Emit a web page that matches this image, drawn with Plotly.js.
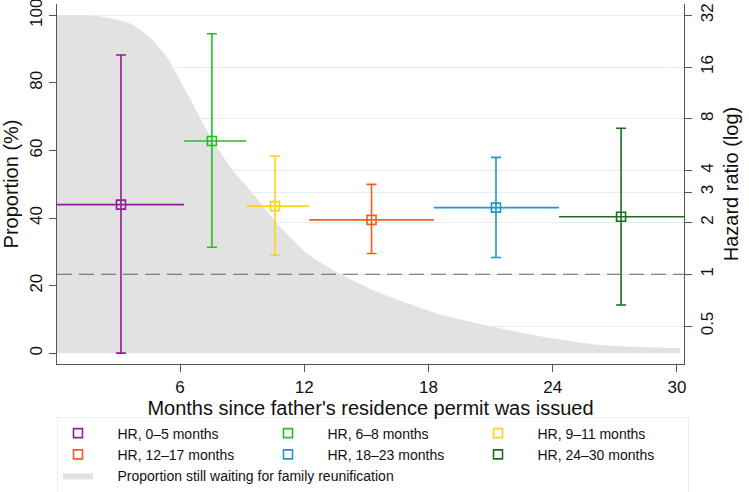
<!DOCTYPE html>
<html>
<head>
<meta charset="utf-8">
<script src="https://cdn.plot.ly/plotly-3.0.1.min.js"></script>
<style>
  body { margin: 0; background: #fff; }
  #chart { width: 749px; height: 492px; }
</style>
</head>
<body>
<div id="chart"></div>
<script>
// hazard ratio per waiting-time band
let bandNames = ["HR, 0–5 months", "HR, 6–8 months", "HR, 9–11 months",
                 "HR, 12–17 months", "HR, 18–23 months", "HR, 24–30 months"];
let bandColors = ["#8e1f96", "#22c11e", "#ffd21e", "#ff5a1e", "#1e96c8", "#1d6e1d"];
let bandMid = [3.15, 7.54, 10.59, 15.25, 21.26, 27.3];
let bandStart = [0.06, 6.2, 9.2, 12.24, 18.26, 24.3];
let bandEnd = [6.2, 9.2, 12.24, 18.26, 24.3, 30.34];
let hr = [2.54, 5.95, 2.49, 2.07, 2.44, 2.16];
let hrLow = [0.348, 1.435, 1.29, 1.32, 1.25, 0.663];
let hrHigh = [18.8, 25.0, 4.86, 3.33, 4.78, 7.05];

// share of families still waiting
let waitName = "Proportion still waiting for family reunification";
let waitMonths = [0, 1.99, 3.59, 4.55, 5.37, 5.66, 6.34, 6.96, 7.59, 8.56, 9.52,
                  10.68, 12.13, 13.39, 15.66, 18.41, 21.21, 24.01, 26.42, 30.14];
let waitPct = [100, 99.8, 97.6, 93.5, 87.6, 84.6, 76.9, 69.8, 62.7, 54.1, 47.3,
               38.5, 29.6, 24.6, 17.8, 11.8, 7.7, 4.4, 2.4, 1.5];

let monthTicks = [6, 12, 18, 24, 30];
let pctTicks = [0, 20, 40, 60, 80, 100];
let hrTicks = [0.5, 1, 2, 3, 4, 8, 16, 32];
let refHR = 1;

let axisCol = '#555555';
// push legend text a bit away from the symbol, like the original
let pad = '\u00a0\u00a0\u00a0\u00a0\u00a0';

let waiting = {
    x: waitMonths,
    y: waitPct,
    name: pad + waitName,
    type: 'scatter',
    mode: 'lines',
    line: { width: 0, shape: 'spline', smoothing: 0.6 },
    fill: 'tozeroy',
    fillcolor: '#e2e2e2',
    legendrank: 2000,
    hoverinfo: 'skip'
};

let data = [waiting];

for (let i = 0; i < bandNames.length; i++) {
    data.push({
        x: [bandMid[i]],
        y: [hr[i]],
        yaxis: 'y2',
        name: pad + bandNames[i],
        type: 'scatter',
        mode: 'markers',
        marker: {
            symbol: 'square-open',
            size: 9,
            color: bandColors[i],
            line: { width: 1.6, color: bandColors[i] }
        },
        error_x: {
            type: 'data',
            symmetric: false,
            array: [bandEnd[i] - bandMid[i]],
            arrayminus: [bandMid[i] - bandStart[i]],
            width: 0,
            thickness: 1.6,
            color: bandColors[i]
        },
        error_y: {
            type: 'data',
            symmetric: false,
            array: [hrHigh[i] - hr[i]],
            arrayminus: [hr[i] - hrLow[i]],
            width: 5,
            thickness: 1.6,
            color: bandColors[i]
        }
    });
}

let layout = {
    width: 749,
    height: 492,
    margin: { l: 57, r: 65, t: 4, b: 128, autoexpand: false },
    paper_bgcolor: '#ffffff',
    plot_bgcolor: '#ffffff',
    font: { family: 'Arial, "Liberation Sans", sans-serif', size: 17, color: '#111111' },
    showlegend: true,
    xaxis: {
        range: [0.06, 30.34],
        tickmode: 'array',
        tickvals: monthTicks,
        ticks: 'outside',
        ticklen: 7,
        tickcolor: axisCol,
        showline: true,
        linecolor: axisCol,
        linewidth: 1.3,
        showgrid: false,
        zeroline: false,
        title: { text: "Months since father's residence permit was issued", standoff: 1 }
    },
    yaxis: {
        range: [-3.17, 103.34],
        tickmode: 'array',
        tickvals: pctTicks,
        tickangle: -90,
        ticks: 'outside',
        ticklen: 7,
        tickcolor: axisCol,
        ticklabeloverflow: 'allow',
        showline: true,
        linecolor: axisCol,
        linewidth: 1.3,
        showgrid: false,
        zeroline: false,
        title: { text: 'Proportion (%)', standoff: 6 }
    },
    yaxis2: {
        type: 'log',
        overlaying: 'y',
        side: 'right',
        range: [-0.5217, 1.5708],
        tickmode: 'array',
        tickvals: hrTicks,
        ticktext: hrTicks.map(String),
        tickangle: -90,
        ticks: 'outside',
        ticklen: 7,
        tickcolor: axisCol,
        ticklabeloverflow: 'allow',
        showline: true,
        linecolor: axisCol,
        linewidth: 1.3,
        showgrid: true,
        gridcolor: '#e3edf2',
        gridwidth: 1,
        zeroline: false,
        title: { text: 'Hazard ratio (log)', standoff: 8 }
    },
    legend: {
        orientation: 'h',
        x: 0,
        xanchor: 'left',
        y: -0.146,
        yanchor: 'top',
        bgcolor: '#ffffff',
        bordercolor: '#e6eef2',
        borderwidth: 1,
        font: { size: 14, color: '#111111' },
        entrywidth: 165,
        itemwidth: 30,
        tracegroupgap: 0
    },
    shapes: [{
        type: 'line',
        xref: 'paper', x0: 0, x1: 1,
        yref: 'y2', y0: refHR, y1: refHR,
        line: { color: '#666666', width: 1.2, dash: '15px,7px' }
    }]
};

Plotly.newPlot('chart', data, layout, { displayModeBar: false });
</script>
</body>
</html>
